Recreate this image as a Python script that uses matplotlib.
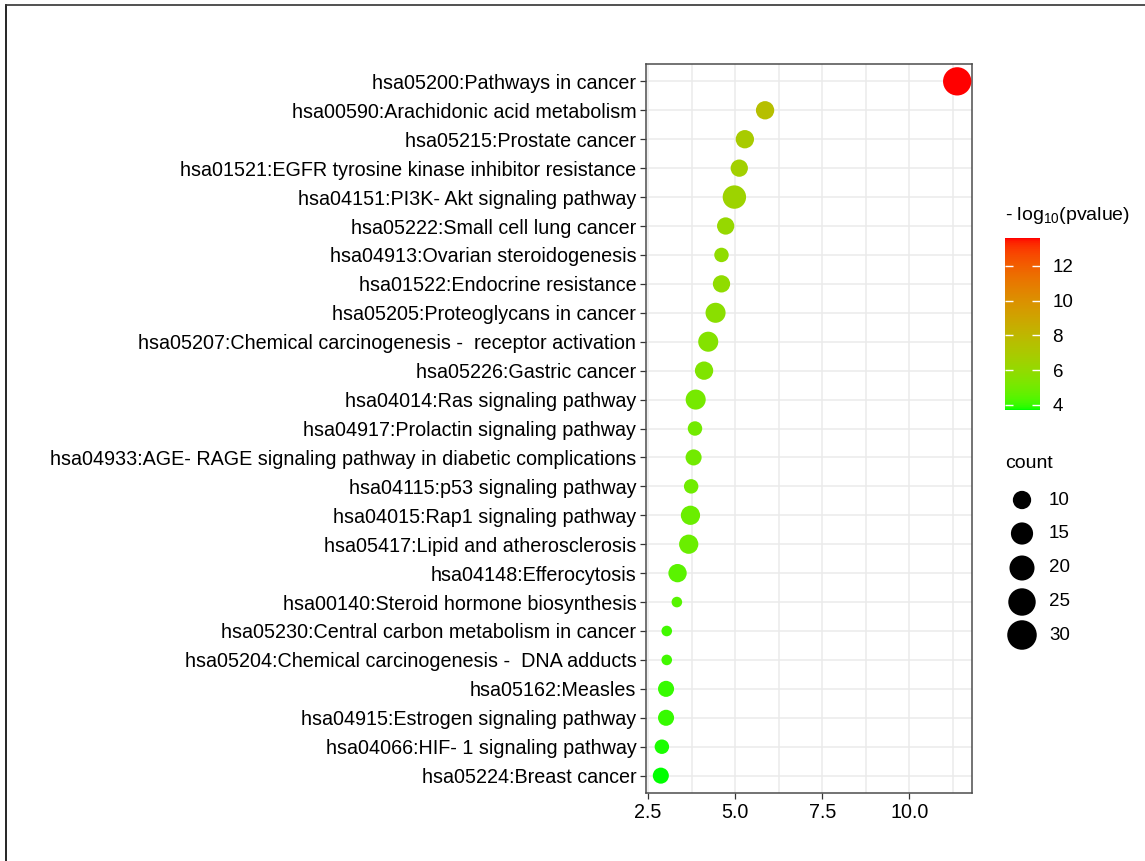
import numpy as np
import matplotlib
matplotlib.use("Agg")
import matplotlib.pyplot as plt
from matplotlib.colors import ListedColormap, Normalize
from matplotlib.lines import Line2D

plt.rcParams['font.family'] = ['Liberation Sans', 'DejaVu Sans']
plt.rcParams['mathtext.fontset'] = 'custom'
plt.rcParams['mathtext.rm'] = 'Liberation Sans'
plt.rcParams['mathtext.it'] = 'Liberation Sans:italic'

# data (top to bottom)
terms = [
    "hsa05200:Pathways in cancer",
    "hsa00590:Arachidonic acid metabolism",
    "hsa05215:Prostate cancer",
    "hsa01521:EGFR tyrosine kinase inhibitor resistance",
    "hsa04151:PI3K- Akt signaling pathway",
    "hsa05222:Small cell lung cancer",
    "hsa04913:Ovarian steroidogenesis",
    "hsa01522:Endocrine resistance",
    "hsa05205:Proteoglycans in cancer",
    "hsa05207:Chemical carcinogenesis -  receptor activation",
    "hsa05226:Gastric cancer",
    "hsa04014:Ras signaling pathway",
    "hsa04917:Prolactin signaling pathway",
    "hsa04933:AGE- RAGE signaling pathway in diabetic complications",
    "hsa04115:p53 signaling pathway",
    "hsa04015:Rap1 signaling pathway",
    "hsa05417:Lipid and atherosclerosis",
    "hsa04148:Efferocytosis",
    "hsa00140:Steroid hormone biosynthesis",
    "hsa05230:Central carbon metabolism in cancer",
    "hsa05204:Chemical carcinogenesis -  DNA adducts",
    "hsa05162:Measles",
    "hsa04915:Estrogen signaling pathway",
    "hsa04066:HIF- 1 signaling pathway",
    "hsa05224:Breast cancer",
]
xvals = [11.37, 5.86, 5.28, 5.12, 4.98, 4.73, 4.61, 4.61, 4.44, 4.23, 4.11, 3.87, 3.85,
         3.81, 3.74, 3.72, 3.67, 3.35, 3.33, 3.04, 3.04, 3.02, 3.02, 2.90, 2.87]
counts = [27, 10, 10, 9, 17, 9, 7, 9, 12, 12, 10, 12, 7, 8, 7, 11, 11, 10, 6, 6, 6, 8, 8, 7, 8]
logp = [13.6, 7.6, 6.9, 6.6, 6.4, 6.1, 5.9, 5.9, 5.7, 5.5, 5.4, 5.1, 5.0, 5.0, 4.9, 4.8,
        4.8, 4.5, 4.4, 4.1, 4.1, 4.0, 4.0, 3.8, 3.7]
size_breaks = [10, 15, 20, 25, 30]
color_ticks = [4, 6, 8, 10, 12]

DPI = 100


# green -> red gradient interpolated in CIELAB (like ggplot)
def srgb_to_lab(rgb):
    c = np.asarray(rgb, float)
    lin = np.where(c <= 0.04045, c / 12.92, ((c + 0.055) / 1.055) ** 2.4)
    M = np.array([[0.4124, 0.3576, 0.1805], [0.2126, 0.7152, 0.0722], [0.0193, 0.1192, 0.9505]])
    xyz = M @ lin / np.array([0.95047, 1.0, 1.08883])
    f = np.where(xyz > 0.008856, np.cbrt(xyz), 7.787 * xyz + 16 / 116)
    return np.array([116 * f[1] - 16, 500 * (f[0] - f[1]), 200 * (f[1] - f[2])])


def lab_to_srgb(lab):
    L, a, b = lab
    fy = (L + 16) / 116
    fx = fy + a / 500
    fz = fy - b / 200
    f = np.array([fx, fy, fz])
    xyz = np.where(f ** 3 > 0.008856, f ** 3, (f - 16 / 116) / 7.787) * np.array([0.95047, 1.0, 1.08883])
    Minv = np.array([[3.2406, -1.5372, -0.4986], [-0.9689, 1.8758, 0.0415], [0.0557, -0.2040, 1.0570]])
    lin = np.clip(Minv @ xyz, 0, 1)
    c = np.where(lin <= 0.0031308, 12.92 * lin, 1.055 * lin ** (1 / 2.4) - 0.055)
    return np.clip(c, 0, 1)


lab_lo = srgb_to_lab([0, 1, 0])
lab_hi = srgb_to_lab([1, 0, 0])
cmap = ListedColormap([lab_to_srgb(lab_lo + t * (lab_hi - lab_lo)) for t in np.linspace(0, 1, 256)])
norm = Normalize(min(logp), max(logp))

cmin, cmax = 6, 31


def diam_px(c):
    u = np.clip((np.asarray(c, float) - cmin) / (cmax - cmin), 0, 1)
    return 10.6 + 19.3 * np.sqrt(u)


def marker_s(c):
    return (diam_px(c) * 72 / DPI) ** 2


fig = plt.figure(figsize=(11.45, 8.61), dpi=DPI)
W, H = 1145, 861


def fax(l, t, r, b):
    return fig.add_axes([l / W, 1 - b / H, (r - l) / W, (b - t) / H])


ax = fax(646, 64, 972, 793)
n = len(terms)
ypos = np.arange(n)[::-1]
ax.scatter(xvals, ypos, s=marker_s(counts), c=logp, cmap=cmap, norm=norm, linewidths=0, zorder=3)

lo, hi = min(xvals), max(xvals)
pad = 0.05 * (hi - lo)
ax.set_xlim(lo - pad, hi + pad)
ax.set_ylim(-0.6, n - 0.4)
ax.set_yticks(ypos)
ax.set_yticklabels(terms)
ax.set_xticks([2.5, 5.0, 7.5, 10.0])
ax.set_xticklabels(["2.5", "5.0", "7.5", "10.0"])
ax.set_xticks([3.75, 6.25, 8.75, 11.25], minor=True)
ax.grid(True, which='major', color='#ebebeb', linewidth=1.1, zorder=0)
ax.grid(True, which='minor', axis='x', color='#ebebeb', linewidth=1.1, zorder=0)
ax.set_axisbelow(True)
ax.tick_params(axis='both', which='major', length=4, width=0.9, color='#333333',
               labelsize=14.2, labelcolor='black', pad=3)
ax.tick_params(which='minor', length=0)
for sp in ax.spines.values():
    sp.set_color('#4d4d4d')
    sp.set_linewidth(1.1)

# colour bar
cax = fax(1005, 238, 1040, 410)
sm = plt.cm.ScalarMappable(cmap=cmap, norm=norm)
cb = fig.colorbar(sm, cax=cax, ticks=color_ticks)
cb.outline.set_visible(False)
cax.tick_params(direction='in', color='white', length=6, width=1, left=True, right=True,
                labelsize=13.5, pad=9)
fig.text(1005 / W, 1 - 215 / H, r'- log$_{\mathrm{10}}$(pvalue)', fontsize=14, va='center', ha='left')

# size legend
lax = fax(1005, 480, 1145, 655)
lax.set_xlim(0, 140)
lax.set_ylim(655, 480)
lax.axis('off')
leg_y = [500, 533.5, 568, 602, 635]
lax.scatter([17] * len(size_breaks), leg_y, s=marker_s(size_breaks), color='black', linewidths=0)
for yy, b in zip(leg_y, size_breaks):
    lax.text(44, yy, str(b), fontsize=13.5, va='center', ha='left')
fig.text(1005 / W, 1 - 463 / H, 'count', fontsize=14, va='center', ha='left')

# outer frame (top and left edges visible)
fig.add_artist(Line2D([6 / W, 6 / W], [0, 1 - 5 / H], color='black', linewidth=1.2))
fig.add_artist(Line2D([6 / W, 1], [1 - 5 / H, 1 - 5 / H], color='#333333', linewidth=1.2))

fig.savefig("out.png", dpi=DPI)
